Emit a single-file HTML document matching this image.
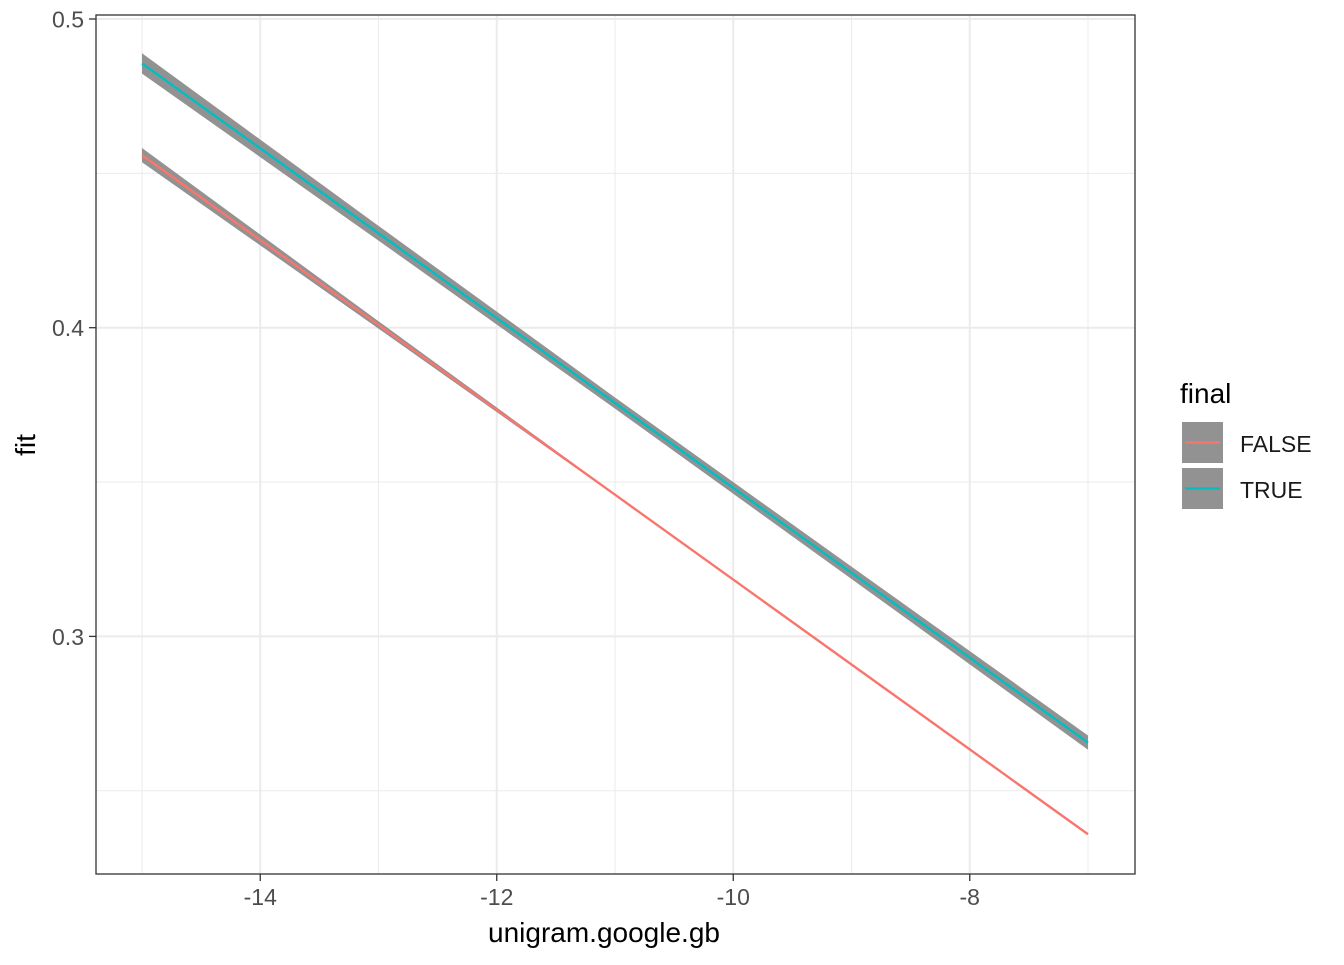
<!DOCTYPE html>
<html><head><meta charset="utf-8"><style>
body{margin:0;background:#fff}
svg text{font-family:"Liberation Sans",Arial,sans-serif}
</style></head><body>
<svg width="1344" height="960" xmlns="http://www.w3.org/2000/svg">
<g id="grid"></g>
<g id="marks"></g>
<rect x="96" y="15" width="1039" height="859" fill="none" stroke="#333" stroke-width="1.3"/>
<g id="axes"></g>
<text x="604" y="942" font-size="28" text-anchor="middle" fill="#000">unigram.google.gb</text>
<text transform="translate(35,445) rotate(-90)" font-size="28" text-anchor="middle" fill="#000">fit</text>
<g>
<text x="1180" y="403" font-size="28" fill="#000">final</text>
<g>
<rect x="1182" y="422" width="41" height="41" fill="#929292"/>
<line x1="1185" y1="442.5" x2="1220" y2="442.5" stroke="#F8766D" stroke-width="2.2"/>
<text x="1240" y="452" font-size="23" fill="#1a1a1a">FALSE</text>
</g>
<g>
<rect x="1182" y="468" width="41" height="41" fill="#929292"/>
<line x1="1185" y1="488.5" x2="1220" y2="488.5" stroke="#00BFC4" stroke-width="2.2"/>
<text x="1240" y="498" font-size="23" fill="#1a1a1a">TRUE</text>
</g>
</g>
</svg>
<script>
const xs=[-15,-13,-11,-9,-7];
const trueFit=[0.4856,0.4306,0.3756,0.3206,0.2656];
const trueHalf=[0.0033,0.0024,0.0018,0.0020,0.0023];
const falseFit=[0.4559,0.4009,0.3459,0.2909,0.2359];
const falseHalf=[0.0023,0.0012,0.0003,0.0,0.0];
const xMajor=[-14,-12,-10,-8];
const xMinor=[-15,-13,-11,-9,-7];
const yMajor=[0.3,0.4,0.5];
const yMinor=[0.25,0.35,0.45];
const X=v=>142+(v+15)*118.25;
const Y=v=>19+(0.5-v)*3087;
const NS="http://www.w3.org/2000/svg";
function mk(p,t,a){const e=document.createElementNS(NS,t);for(const k in a)e.setAttribute(k,a[k]);p.appendChild(e);return e;}
const g=document.getElementById('grid');
xMinor.forEach(v=>{const l=mk(g,'line',{x1:X(v),x2:X(v),y1:15,y2:874,stroke:'#ebebeb','stroke-width':1});

});
yMinor.forEach(v=>{const l=mk(g,'line',{x1:96,x2:1135,y1:Y(v),y2:Y(v),stroke:'#ebebeb','stroke-width':1});

});
xMajor.forEach(v=>{const l=mk(g,'line',{x1:X(v),x2:X(v),y1:15,y2:874,stroke:'#ebebeb','stroke-width':2});

});
yMajor.forEach(v=>{const l=mk(g,'line',{x1:96,x2:1135,y1:Y(v),y2:Y(v),stroke:'#ebebeb','stroke-width':2});

});
const m=document.getElementById('marks');
function ribbon(fit,half,name){
 let up=xs.map((x,i)=>X(x)+','+Y(fit[i]+half[i]));
 let lo=xs.map((x,i)=>X(x)+','+Y(fit[i]-half[i])).reverse();
 const p=mk(m,'polygon',{points:up.concat(lo).join(' '),fill:'#8c8c8c','fill-opacity':0.95});
 
 
}
function line(fit,col,name){
 const p=mk(m,'polyline',{points:xs.map((x,i)=>X(x)+','+Y(fit[i])).join(' '),fill:'none',stroke:col,'stroke-width':2.4});
 
 
}
ribbon(falseFit,falseHalf,'ribbon-false');
ribbon(trueFit,trueHalf,'ribbon-true');
line(falseFit,'#F8766D','line-false');
line(trueFit,'#00BFC4','line-true');
const a=document.getElementById('axes');
xMajor.forEach(v=>{const t=mk(a,'line',{x1:X(v),x2:X(v),y1:874,y2:881,stroke:'#333','stroke-width':1.3});


const tx=mk(a,'text',{x:X(v),y:905,'font-size':23,'text-anchor':'middle',fill:'#4d4d4d'});tx.textContent=v;

});
yMajor.forEach(v=>{const t=mk(a,'line',{x1:89,x2:96,y1:Y(v),y2:Y(v),stroke:'#333','stroke-width':1.3});


const tx=mk(a,'text',{x:84,y:Y(v)+8.5,'font-size':23,'text-anchor':'end',fill:'#4d4d4d'});tx.textContent=v.toFixed(1);

});
</script>
</body></html>
